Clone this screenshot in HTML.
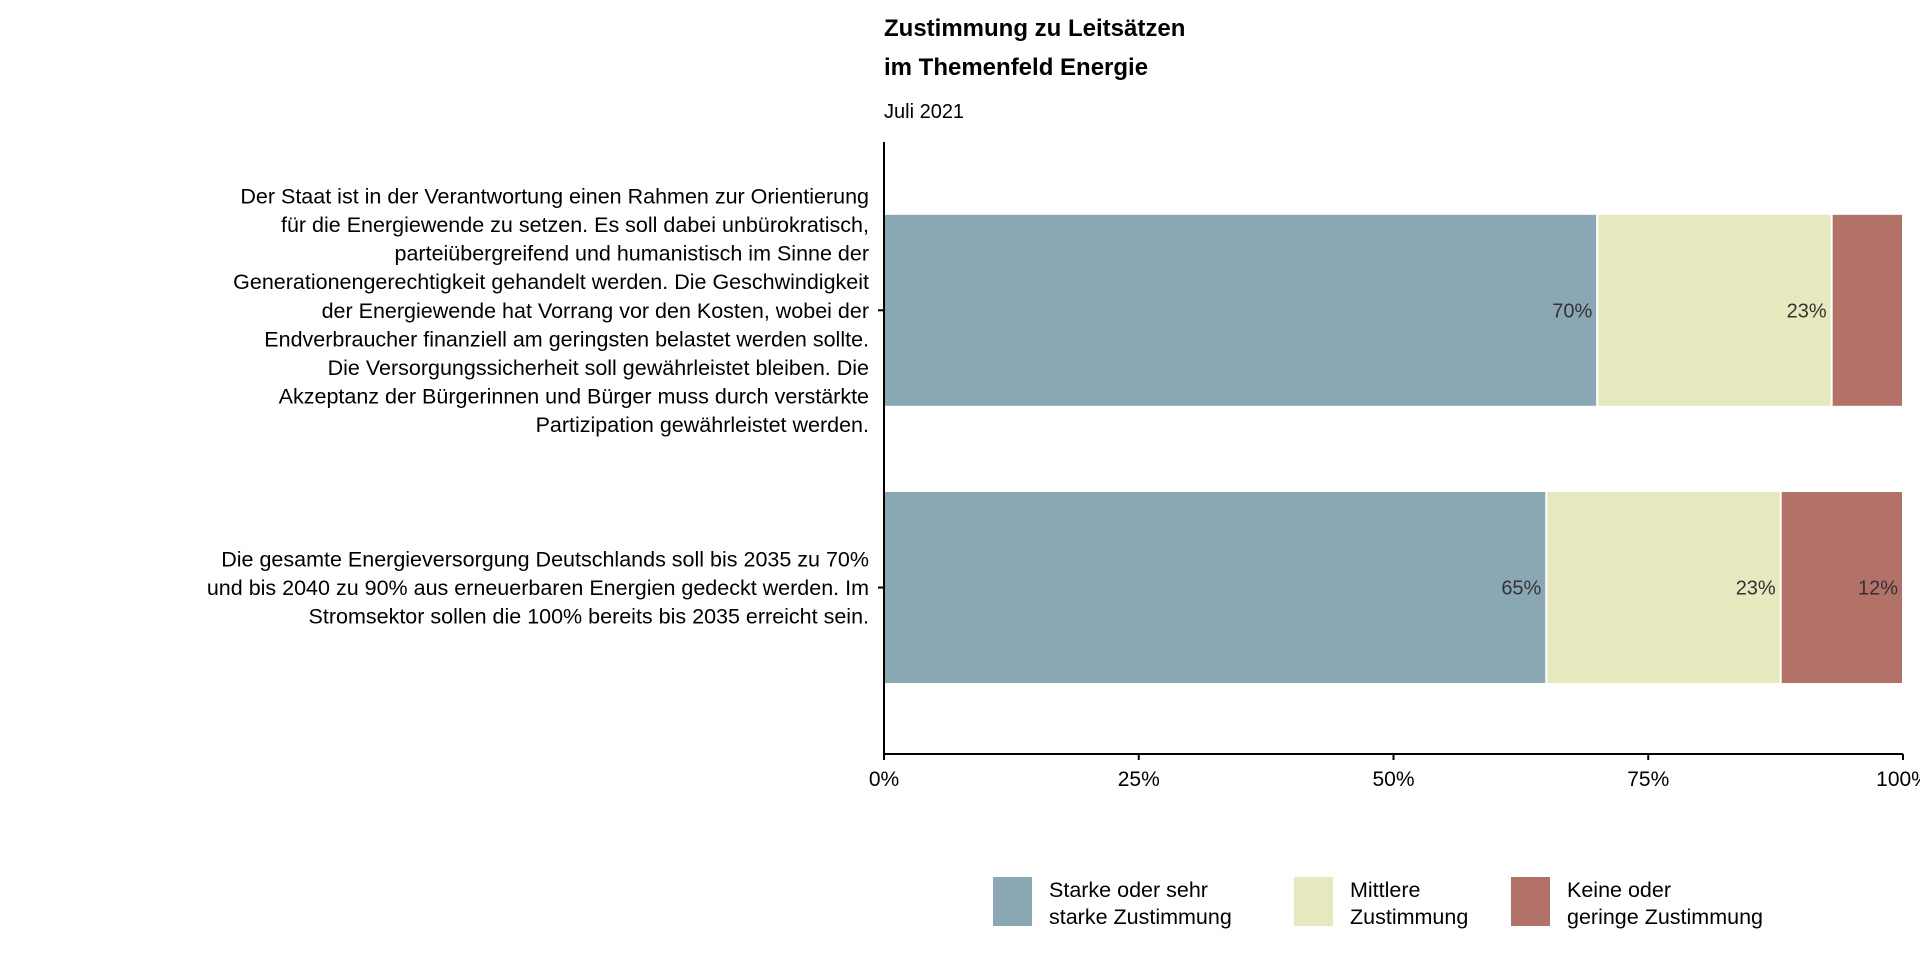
<!DOCTYPE html>
<html><head><meta charset="utf-8"><style>
body{margin:0;background:#fff;font-family:"Liberation Sans",Arial,sans-serif;}
svg text{font-family:"Liberation Sans",Arial,sans-serif;}
</style></head><body>
<svg width="1920" height="960" xmlns="http://www.w3.org/2000/svg" id="chart">
<text x="884" y="36" font-size="24" font-weight="bold">Zustimmung zu Leitsätzen</text>
<text x="884" y="75" font-size="24" font-weight="bold">im Themenfeld Energie</text>
<text x="884" y="118" font-size="20">Juli 2021</text>
<g id="plot"></g>
</svg>
<script>
const categories = [
 ["Der Staat ist in der Verantwortung einen Rahmen zur Orientierung","für die Energiewende zu setzen.  Es soll dabei unbürokratisch,","parteiübergreifend und humanistisch im Sinne der","Generationengerechtigkeit gehandelt werden. Die Geschwindigkeit","der Energiewende hat Vorrang vor den Kosten, wobei der","Endverbraucher finanziell am geringsten belastet werden sollte.","Die Versorgungssicherheit soll gewährleistet bleiben. Die","Akzeptanz der Bürgerinnen und Bürger muss durch verstärkte","Partizipation gewährleistet werden."],
 ["Die gesamte Energieversorgung Deutschlands soll bis 2035 zu 70%","und bis 2040 zu 90% aus erneuerbaren Energien gedeckt werden. Im","Stromsektor sollen die 100% bereits bis 2035 erreicht sein."]
];
const strong = [70, 65];
const medium = [23, 23];
const low = [7, 12];
const seriesNames = [["Starke oder sehr","starke Zustimmung"],["Mittlere","Zustimmung"],["Keine oder","geringe Zustimmung"]];
const tickValues = [0, 25, 50, 75, 100];
const tickLabels = ["0%","25%","50%","75%","100%"];

const NS="http://www.w3.org/2000/svg";
const g=document.getElementById('plot');
const X0=884,X1=1903,Ytop=142,Ybot=754;
const colors=["#8aa7b4","#e6e9bd","#b37268"];
const x=v=>X0+(X1-X0)*v/100;
const bandH=(Ybot-Ytop)/(categories.length+0.2*0+0.55);
const yc=i=>[310,587][i]!==undefined? Ytop+ (Ybot-Ytop)*( [0.275,0.728][i] ) : 0;
function el(t,a){const e=document.createElementNS(NS,t);for(const k in a)e.setAttribute(k,a[k]);g.appendChild(e);return e;}
const series=[strong,medium,low];
categories.forEach((cat,i)=>{
  const c=yc(i),h=193;
  let acc=0;
  series.forEach((s,j)=>{
    const v=s[i];
    const r=el('rect',{x:x(acc),y:c-h/2,width:x(acc+v)-x(acc),height:h,fill:colors[j],stroke:'#fff','stroke-width':2});
    
    
    acc+=v;
    if(v>=10){
      const t=el('text',{x:x(acc)-5,y:c+7,'font-size':20,'text-anchor':'end',fill:'#333'});
      t.textContent=v+'%';
      
      
    }
  });
  const lh=28.6,n=cat.length;
  cat.forEach((line,k)=>{
    const t=el('text',{x:869,y:c+(k-(n-1)/2)*lh+7.5,'font-size':21.5,'text-anchor':'end',fill:'#000'});
    t.textContent=line;
    
    
  });
  const tk=el('line',{x1:878,x2:884,y1:c,y2:c,stroke:'#000','stroke-width':2});
  
  
});
const ya=el('line',{x1:X0,x2:X0,y1:Ytop,y2:Ybot,stroke:'#000','stroke-width':2});


const xa=el('line',{x1:X0,x2:X1,y1:Ybot,y2:Ybot,stroke:'#000','stroke-width':2});


tickValues.forEach((v,i)=>{
  const l=el('line',{x1:x(v),x2:x(v),y1:Ybot,y2:Ybot+6,stroke:'#000','stroke-width':2});
  
  
  const t=el('text',{x:x(v),y:786,'font-size':21,'text-anchor':'middle',fill:'#000'});
  t.textContent=tickLabels[i];
  
  
});
const legX=[993,1294,1511];
seriesNames.forEach((nm,j)=>{
  const r=el('rect',{x:legX[j],y:877,width:39,height:49,fill:colors[j]});
  
  
  nm.forEach((line,k)=>{
    const t=el('text',{x:legX[j]+56,y:897+k*27,'font-size':21.5,fill:'#000'});
    t.textContent=line;
    
    
  });
});
</script>
</body></html>
